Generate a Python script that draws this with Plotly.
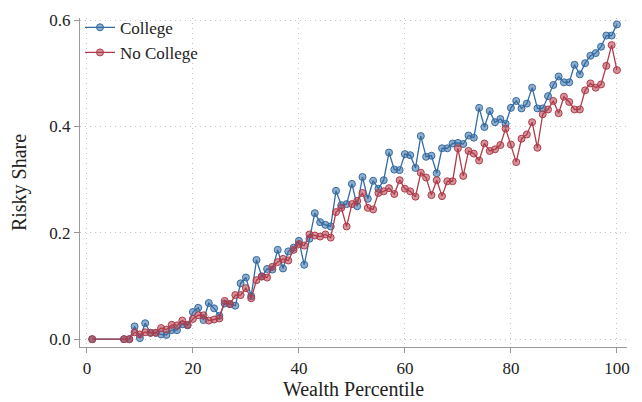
import plotly.graph_objects as go

# Wealth percentiles (2-6 have no observations)
pct = [1] + list(range(7, 101))

college = [
    0.000,
    0.000, 0.000, 0.024, 0.002, 0.030, 0.012, 0.012, 0.009, 0.008, 0.017,
    0.017, 0.028, 0.026, 0.051, 0.059, 0.036, 0.068, 0.058, 0.044, 0.067,
    0.066, 0.063, 0.105, 0.116, 0.081, 0.149, 0.118, 0.132, 0.131, 0.168,
    0.133, 0.165, 0.172, 0.185, 0.140, 0.189, 0.237, 0.220, 0.215, 0.212,
    0.279, 0.252, 0.254, 0.292, 0.250, 0.305, 0.264, 0.298, 0.283, 0.299,
    0.351, 0.319, 0.318, 0.348, 0.346, 0.322, 0.382, 0.343, 0.345, 0.312,
    0.359, 0.359, 0.368, 0.369, 0.367, 0.383, 0.379, 0.435, 0.399, 0.429,
    0.408, 0.414, 0.405, 0.435, 0.448, 0.434, 0.443, 0.473, 0.434, 0.434,
    0.457, 0.478, 0.494, 0.483, 0.483, 0.516, 0.498, 0.519, 0.533, 0.538,
    0.550, 0.571, 0.571, 0.592,
]

no_college = [
    0.000,
    0.000, 0.000, 0.013, 0.009, 0.013, 0.012, 0.012, 0.021, 0.018, 0.027,
    0.026, 0.035, 0.027, 0.038, 0.045, 0.045, 0.035, 0.037, 0.039, 0.072,
    0.066, 0.083, 0.083, 0.096, 0.077, 0.111, 0.118, 0.116, 0.136, 0.145,
    0.151, 0.148, 0.168, 0.179, 0.176, 0.197, 0.195, 0.193, 0.197, 0.191,
    0.239, 0.247, 0.212, 0.254, 0.260, 0.275, 0.247, 0.244, 0.275, 0.278,
    0.284, 0.273, 0.299, 0.283, 0.278, 0.268, 0.313, 0.304, 0.271, 0.299,
    0.269, 0.297, 0.297, 0.359, 0.307, 0.354, 0.349, 0.336, 0.368, 0.354,
    0.357, 0.365, 0.396, 0.366, 0.333, 0.377, 0.385, 0.408, 0.360, 0.423,
    0.432, 0.448, 0.425, 0.456, 0.446, 0.432, 0.432, 0.468, 0.481, 0.473,
    0.479, 0.514, 0.553, 0.506,
]

x_ticks = [0, 20, 40, 60, 80, 100]
y_ticks = [0.0, 0.2, 0.4, 0.6]

font = "Liberation Serif, Times New Roman, serif"

fig = go.Figure()
fig.add_trace(go.Scatter(
    x=pct, y=college, name="College", mode="lines+markers",
    line=dict(color="#346ba3", width=1.3),
    marker=dict(symbol="circle", size=7, color="rgba(52,107,163,0.55)",
                line=dict(color="#346ba3", width=1)),
))
fig.add_trace(go.Scatter(
    x=pct, y=no_college, name="No College", mode="lines+markers",
    line=dict(color="#b03c4b", width=1.3),
    marker=dict(symbol="circle", size=7, color="rgba(176,60,75,0.55)",
                line=dict(color="#b03c4b", width=1)),
))

grid = dict(showgrid=True, gridcolor="#c4c4c4", griddash="1px,4px", gridwidth=1,
            zeroline=False, showline=True, linecolor="#999", linewidth=1.2,
            ticks="outside", ticklen=5, tickcolor="#999", automargin=False)

fig.update_layout(
    width=642, height=402,
    margin=dict(l=80, r=15, t=10, b=55),
    plot_bgcolor="white", paper_bgcolor="white",
    font=dict(family=font, size=17, color="#222"),
    showlegend=True,
    legend=dict(x=0.0, y=1.025, xanchor="left", yanchor="top",
                bgcolor="rgba(0,0,0,0)", font=dict(size=17),
                tracegroupgap=0, itemwidth=30),
    xaxis=dict(range=[-1.3, 101.9], tickvals=x_ticks,
               title=dict(text="Wealth Percentile", standoff=2), **grid),
    yaxis=dict(range=[-0.0147, 0.604], tickvals=y_ticks, tickformat=".1f",
               title=dict(text="Risky Share", standoff=17), **grid),
)

# drop the browser's default 8px body margin so the figure sits at the corner
fig.write_html("out.html", config={"displayModeBar": False},
               post_script="document.body.style.margin = '0';")
